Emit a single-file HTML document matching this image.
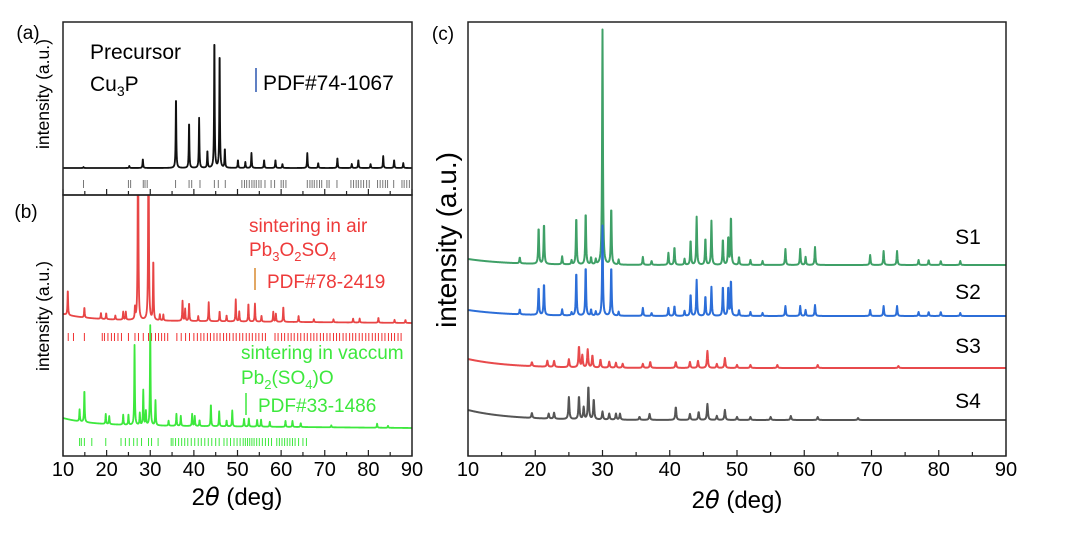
<!DOCTYPE html>
<html><head><meta charset="utf-8"><style>
html,body{margin:0;padding:0;background:#fff;}
svg{display:block;font-family:"Liberation Sans",Arial,sans-serif;}
</style></head><body>
<svg id="chart" width="1080" height="536" viewBox="0 0 1080 536" xmlns="http://www.w3.org/2000/svg">
<defs>
<clipPath id="clipA"><rect x="63" y="22" width="349" height="173"/></clipPath>
<clipPath id="clipB"><rect x="63" y="195" width="349" height="261"/></clipPath>
<clipPath id="clipC"><rect x="468" y="22" width="538" height="434"/></clipPath>
</defs>
<g id="layer"></g>
<text x="28" y="39" font-size="19" text-anchor="middle">(a)</text>
<text x="26" y="218" font-size="19" text-anchor="middle">(b)</text>
<text x="443" y="40" font-size="19" text-anchor="middle">(c)</text>
<text transform="translate(49,94) rotate(-90)" font-size="17.5" text-anchor="middle">intensity (a.u.)</text>
<text transform="translate(49,316) rotate(-90)" font-size="17.5" text-anchor="middle">intensity (a.u.)</text>
<text transform="translate(456,240) rotate(-90)" font-size="28" text-anchor="middle">intensity (a.u.)</text>
<text x="237" y="505" font-size="24" text-anchor="middle">2<tspan font-style="italic" font-family="DejaVu Sans">θ</tspan> (deg)</text>
<text x="737" y="508" font-size="24" text-anchor="middle">2<tspan font-style="italic" font-family="DejaVu Sans">θ</tspan> (deg)</text>
<text x="90" y="59" font-size="21">Precursor</text>
<text x="90" y="91" font-size="21">Cu<tspan font-size="14" dy="5">3</tspan><tspan dy="-5">P</tspan></text>
<line x1="256" y1="68" x2="256" y2="92" stroke="#2b55b0" stroke-width="1.5"/>
<text x="263" y="90" font-size="21">PDF#74-1067</text>
<g fill="#ee3b3b" font-size="19">
<text x="249" y="232">sintering in air</text>
<text x="249" y="256">Pb<tspan font-size="13" dy="5">3</tspan><tspan dy="-5">O</tspan><tspan font-size="13" dy="5">2</tspan><tspan dy="-5">SO</tspan><tspan font-size="13" dy="5">4</tspan></text>
<text x="267" y="288">PDF#78-2419</text>
</g>
<line x1="255" y1="268" x2="255" y2="290" stroke="#d98a30" stroke-width="1.5"/>
<g fill="#3de83d" font-size="19">
<text x="241" y="359">sintering in vaccum</text>
<text x="241" y="384">Pb<tspan font-size="13" dy="5">2</tspan><tspan dy="-5">(SO</tspan><tspan font-size="13" dy="5">4</tspan><tspan dy="-5">)O</tspan></text>
<text x="258" y="412">PDF#33-1486</text>
</g>
<line x1="246" y1="393" x2="246" y2="415" stroke="#3de83d" stroke-width="1.5"/>
<g font-size="21">
<text x="968" y="244" text-anchor="middle">S1</text>
<text x="968" y="299" text-anchor="middle">S2</text>
<text x="968" y="353" text-anchor="middle">S3</text>
<text x="968" y="408" text-anchor="middle">S4</text>
</g>
</svg>
<script>
const xTicks = [10,20,30,40,50,60,70,80,90];
const aPeakPos = [14.7,25.2,28.3,35.9,38.9,41.2,43.1,44.7,45.9,47.1,50.1,51.8,53.2,56.1,58.7,60.3,66.0,68.5,72.9,76.2,77.7,80.5,83.4,85.9,88.0];
const aPeakH   = [1,2,9,71,46,50,17,130,116,19,8,6,15,8,8,4,15,5,10,4,8,4,12,8,5];
const aRefSticks = [14.7,25.0,25.5,28.4,28.8,29.3,35.8,38.9,39.5,41.4,44.7,45.6,47.2,51.0,51.6,52.1,52.7,53.3,53.8,54.3,54.9,55.4,56.3,57.7,58.5,60.0,60.5,61.1,66.0,66.6,67.1,67.6,68.2,68.8,69.3,70.5,71.0,72.8,76.0,76.6,77.2,77.7,78.3,78.9,79.6,80.2,82.1,82.7,83.3,83.9,84.4,85.8,87.7,88.2,88.8,89.4];
const redPeakPos = [11.1,14.9,18.7,19.9,22.0,23.8,24.4,26.5,27.2,29.6,30.7,32.2,33.0,37.4,38.0,38.9,41.0,43.4,45.9,47.5,49.6,50.4,52.5,54.0,55.5,58.2,58.8,60.5,64.0,67.5,72.0,76.5,78.0,82.3,86.0,88.5];
const redPeakH   = [25,10,6,6,4,8,8,12,240,240,60,6,6,20,12,18,5,19,10,6,22,10,18,18,6,10,8,15,6,3,3,4,4,5,3,3];
const redRefSticks = [11.2,12.4,14.9,19.0,19.5,20.3,21.1,21.8,22.6,23.4,25.0,26.5,27.3,28.4,29.6,30.3,31.2,31.9,32.6,33.3,34.0,36.1,37.1,38.1,39.0,40.0,40.8,41.6,42.3,43.1,43.8,44.6,45.3,46.0,46.8,47.5,48.2,49.0,49.7,50.5,51.2,52.0,52.7,53.4,54.2,54.9,55.7,56.4,58.6,59.3,60.1,60.8,61.6,62.3,63.0,63.8,64.5,65.3,66.0,66.8,67.5,68.2,69.0,69.7,70.5,71.2,72.0,72.7,73.4,74.2,74.9,75.7,76.4,77.1,77.9,78.6,79.4,80.1,80.9,81.6,82.3,83.1,83.8,84.6,85.3,86.0,86.8,87.5];
const grnPeakPos = [13.8,14.9,19.8,20.6,23.8,25.0,26.4,27.6,28.4,29.0,30.0,31.2,34.2,36.0,37.0,39.6,40.2,41.3,43.9,45.8,47.5,48.8,51.5,52.6,54.5,55.4,57.4,61.0,62.6,64.5,71.5,82.0,84.5];
const grnPeakH   = [12,32,10,8,10,10,80,12,35,14,100,25,5,12,10,12,10,6,22,15,6,16,8,8,7,7,5,6,6,4,2,4,2];
const grnRefSticks = [13.8,14.2,14.9,16.6,19.8,23.3,24.3,25.2,26.2,27.0,28.0,29.6,30.3,31.8,34.8,35.2,35.8,36.5,37.2,37.9,38.6,39.4,40.2,41.0,41.7,42.5,43.3,44.1,45.0,45.8,46.9,47.6,48.4,49.2,49.9,50.6,51.3,51.8,52.3,52.8,53.3,53.8,54.4,55.0,55.7,56.4,57.1,57.8,59.0,59.6,60.2,60.8,61.4,62.0,62.6,63.2,64.0,65.0,65.8];
const cPeakPos1 = [17.7,20.5,21.3,24.0,25.4,26.1,27.5,28.3,29.0,30.0,31.3,32.4,36.0,37.3,39.8,40.7,42.2,43.1,44.0,45.3,46.2,47.9,48.7,49.1,50.3,52.0,53.8,57.2,59.4,60.2,61.6,69.8,71.8,73.8,77.0,78.5,80.3,83.2];
const cPeakH1   = [6,37,41,8,4,48,53,7,5,235,58,5,8,4,12,18,6,25,48,27,44,26,28,49,8,5,4,16,16,8,18,10,14,14,5,5,4,4];
const cPeakPos2 = cPeakPos1;
const cPeakH2   = [5,28,32,6,3,44,50,6,4,90,50,4,8,3,8,10,5,22,36,20,29,30,29,36,6,4,3,10,10,6,11,6,10,10,4,4,4,3];
const cPeakPos3 = [19.5,21.8,22.8,25.0,26.5,27.0,27.8,28.5,29.7,31.0,32.0,33.0,36.0,37.1,40.9,43.0,44.2,45.6,47.0,48.2,50.0,52.0,56.0,62.0,74.0];
const cPeakH3   = [4,6,6,8,21,12,18,12,8,6,5,4,4,6,6,6,7,17,4,10,3,3,3,3,2];
const cPeakPos4 = [19.5,22.0,22.8,25.0,26.5,27.2,27.9,28.7,30.0,31.0,32.0,32.6,35.5,37.0,40.9,43.0,44.3,45.6,47.0,48.2,50.0,52.0,55.0,58.0,62.0,68.0];
const cPeakH4   = [5,5,6,22,23,12,33,20,8,6,6,6,3,6,13,6,8,16,4,10,3,3,3,4,3,2];

const svg = document.getElementById('chart');
const layer = document.getElementById('layer');
const NS = 'http://www.w3.org/2000/svg';
function mk(tag){ return document.createElementNS(NS, tag); }
function xAB(d){ return 63 + (d-10)*(349/80); }
function xC(d){ return 468 + (d-10)*(538/80); }

function profile(pos, h, base0, base1, w, xf, yEdge){
  let pts = [];
  for(let t=10; t<=90.0001; t+=0.04){
    let b = base0 + (base1-base0)*(t-10)/80 + (yEdge||0)*Math.exp(-(t-10)/6);
    let s = 0;
    for(let i=0;i<pos.length;i++){ const u=(t-pos[i])/w; s += h[i]/(1+u*u*3); }
    pts.push(xf(t).toFixed(2)+','+(b - s).toFixed(2));
  }
  return pts.join(' ');
}
function addLine(pts, color, clip, name, sw){
  const p = mk('polyline');
  p.setAttribute('points', pts);
  p.setAttribute('fill','none');
  p.setAttribute('stroke', color);
  p.setAttribute('stroke-width', sw||1.8);
  p.setAttribute('stroke-linejoin','round');
  p.setAttribute('clip-path','url(#'+clip+')');
  
  
  layer.appendChild(p);
}
function addSticks(arr, y1, y2, color, name){
  const g = mk('g');
  
  
  arr.forEach(d=>{
    const l = mk('line');
    l.setAttribute('x1', xAB(d)); l.setAttribute('x2', xAB(d));
    l.setAttribute('y1', y1); l.setAttribute('y2', y2);
    l.setAttribute('stroke', color); l.setAttribute('stroke-width', 1);
    
    
    g.appendChild(l);
  });
  layer.appendChild(g);
}

addLine(profile(aPeakPos, aPeakH, 168, 168, 0.14, xAB, 0), '#111', 'clipA', 'precursor-cu3p-pattern', 1.8);
addSticks(aRefSticks, 180, 188, '#777', 'pdf-74-1067-sticks');
addLine(profile(redPeakPos, redPeakH, 320, 323, 0.14, xAB, -6), '#e84545', 'clipB', 'air-sintered-pattern', 1.8);
addSticks(redRefSticks, 333, 341, '#f03030', 'pdf-78-2419-sticks');
addLine(profile(grnPeakPos, grnPeakH, 425, 428, 0.14, xAB, -7), '#3de83d', 'clipB', 'vacuum-sintered-pattern', 1.8);
addSticks(grnRefSticks, 438, 446, '#3de83d', 'pdf-33-1486-sticks');

addLine(profile(cPeakPos1, cPeakH1, 265, 265, 0.12, xC, -6), '#3fa067', 'clipC', 's1-pattern', 2);
addLine(profile(cPeakPos2, cPeakH2, 316, 316, 0.12, xC, -6), '#2c6ed8', 'clipC', 's2-pattern', 2);
addLine(profile(cPeakPos3, cPeakH3, 368, 368, 0.15, xC, -9), '#e84a4c', 'clipC', 's3-pattern', 2);
addLine(profile(cPeakPos4, cPeakH4, 420, 420, 0.15, xC, -10), '#555', 'clipC', 's4-pattern', 2);

function rect(x,y,w,h,name){
  const r = mk('rect');
  r.setAttribute('x',x); r.setAttribute('y',y); r.setAttribute('width',w); r.setAttribute('height',h);
  r.setAttribute('fill','none'); r.setAttribute('stroke','#222'); r.setAttribute('stroke-width',1.5);
  
  
  svg.appendChild(r);
}
rect(63,22,349,173,'panel-a-frame');
rect(63,195,349,261,'panel-b-frame');
rect(468,22,538,434,'panel-c-frame');

function ticks(xf, y, name){
  const g = mk('g');
  
  
  for(let d=10; d<=90; d+=5){
    const l = mk('line');
    l.setAttribute('x1', xf(d)); l.setAttribute('x2', xf(d));
    l.setAttribute('y1', y); l.setAttribute('y2', y - (d%10===0?6:4));
    l.setAttribute('stroke','#222'); l.setAttribute('stroke-width',1.2);
    
    
    g.appendChild(l);
  }
  svg.appendChild(g);
}
ticks(xAB, 195, 'panel-a-x-ticks');
ticks(xAB, 456, 'panel-b-x-ticks');
ticks(xC, 456, 'panel-c-x-ticks');

function tickLabels(xf, name){
  const g = mk('g');
  
  
  xTicks.forEach(v=>{
    const t = mk('text');
    t.setAttribute('x', xf(v)); t.setAttribute('y', 476);
    t.setAttribute('font-size', 20); t.setAttribute('text-anchor','middle');
    
    
    t.textContent = v;
    g.appendChild(t);
  });
  svg.appendChild(g);
}
tickLabels(xAB, 'panel-ab-x-tick-labels');
tickLabels(xC, 'panel-c-x-tick-labels');
</script>
</body></html>
